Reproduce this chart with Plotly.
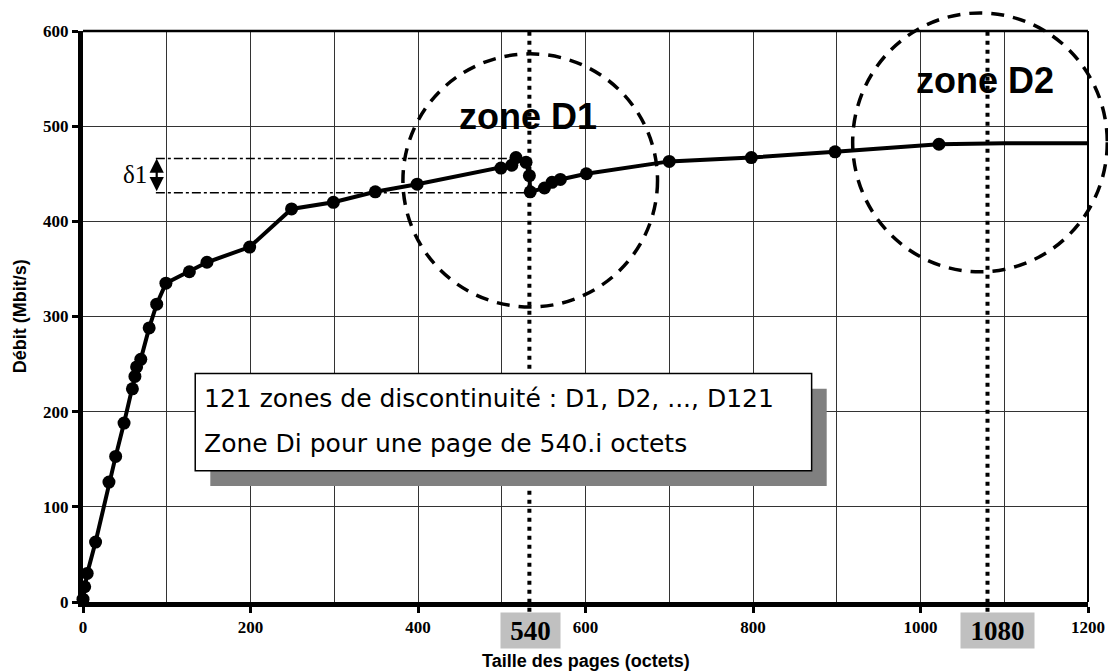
import plotly.graph_objects as go

# ---- data ----
page_size = [0, 2, 5, 15, 31, 39, 49, 59, 62, 64, 69, 79, 88, 99, 127, 148, 199, 249, 299, 349,
             399, 499, 512, 517, 529, 533, 534, 551, 560, 570, 601, 700, 798, 898, 1022]
throughput = [3, 16, 30, 63, 126, 153, 188, 224, 237, 247, 255, 288, 313, 335, 347, 357, 373, 413, 420, 431,
              439, 456, 459, 467, 462, 448, 431, 435, 441, 444, 450, 463, 467, 473, 481]
# curve continuation without measured markers
tail_size = [1100, 1200]
tail_throughput = [482, 482]

x_ticks = [0, 200, 400, 600, 800, 1000, 1200]
y_ticks = [0, 100, 200, 300, 400, 500, 600]
zone_positions = [533, 1080]
zone_labels = ["540", "1080"]

X_MAX, Y_MAX = 1200, 600

def px(x):
    return x / X_MAX

def py(y):
    return y / Y_MAX

fig = go.Figure()

fig.add_trace(go.Scatter(
    x=page_size + tail_size, y=throughput + tail_throughput,
    mode="lines", line=dict(color="black", width=4), cliponaxis=False,
    hoverinfo="skip", showlegend=False))
fig.add_trace(go.Scatter(
    x=page_size, y=throughput, mode="markers",
    marker=dict(color="black", size=13), cliponaxis=False, showlegend=False))

shapes = []
# dotted verticals at discontinuities
for xv in zone_positions:
    shapes.append(dict(type="line", xref="paper", yref="paper",
                       x0=px(xv), x1=px(xv), y0=-0.017, y1=1.0,
                       line=dict(color="black", width=4, dash="4px,5px")))
# top and right border
shapes.append(dict(type="line", xref="paper", yref="paper", x0=0, x1=1, y0=1, y1=1,
                   line=dict(color="black", width=2.5)))
shapes.append(dict(type="line", xref="paper", yref="paper", x0=1, x1=1, y0=0, y1=1,
                   line=dict(color="black", width=2)))
# dash-dot delta lines
shapes.append(dict(type="line", xref="x", yref="y", x0=87, x1=517, y0=466, y1=466,
                   line=dict(color="black", width=1.5, dash="dashdot")))
shapes.append(dict(type="line", xref="x", yref="y", x0=87, x1=533, y0=430, y1=430,
                   line=dict(color="black", width=1.5, dash="dashdot")))
# dashed circles (zones)
for cx, cy, rx, ry in [(534, 443, 152, 133), (1071, 483, 152, 136)]:
    shapes.append(dict(type="circle", xref="paper", yref="paper",
                       x0=px(cx - rx), x1=px(cx + rx), y0=py(cy - ry), y1=py(cy + ry),
                       line=dict(color="black", width=3.5, dash="13px,9px")))
# text box with shadow
shapes.append(dict(type="rect", xref="x", yref="y", x0=152, x1=888, y0=122, y1=224,
                   fillcolor="#808080", line=dict(width=0)))
shapes.append(dict(type="rect", xref="x", yref="y", x0=134, x1=870, y0=138, y1=240,
                   fillcolor="white", line=dict(color="black", width=1.5)))

annotations = []
box_font = dict(family="Comic Sans MS, DejaVu Sans, sans-serif", size=25, color="black")
annotations.append(dict(x=142, y=214, xref="x", yref="y", xanchor="left", yanchor="middle",
                        text="121 zones de discontinuité : D1, D2, ..., D121",
                        showarrow=False, font=box_font))
annotations.append(dict(x=142, y=167, xref="x", yref="y", xanchor="left", yanchor="middle",
                        text="Zone Di pour une page de 540.i octets",
                        showarrow=False, font=box_font))
zone_font = dict(family="Arial, Liberation Sans, sans-serif", size=36, color="black", weight="bold")
annotations.append(dict(x=px(531), y=py(510), xref="paper", yref="paper", text="zone D1",
                        xanchor="center", yanchor="middle", showarrow=False, font=zone_font))
annotations.append(dict(x=px(1077), y=py(548), xref="paper", yref="paper", text="zone D2",
                        xanchor="center", yanchor="middle", showarrow=False, font=zone_font))
# delta arrow
annotations.append(dict(x=88, y=466, ax=88, ay=430, xref="x", yref="y", axref="x", ayref="y",
                        text="", showarrow=True, arrowhead=2, startarrowhead=2,
                        arrowside="end+start", arrowwidth=2.2, arrowsize=1.3, arrowcolor="black"))
annotations.append(dict(x=62, y=449, xref="x", yref="y", text="δ1", showarrow=False,
                        xanchor="center", yanchor="middle",
                        font=dict(family="Liberation Serif, Times New Roman, serif", size=25, color="black")))
# highlighted tick labels
for xv, lab, w in zip([534, 1092], zone_labels, [59, 73]):
    annotations.append(dict(x=xv, y=-0.05, xref="x", yref="paper", text=lab, showarrow=False,
                            xanchor="center", yanchor="middle",
                            bgcolor="#c0c0c0", width=w, height=35, borderpad=0,
                            font=dict(family="Liberation Serif, Times New Roman, serif", size=27,
                                      color="black", weight="bold")))
# axis titles
title_font = dict(family="Arial, Liberation Sans, sans-serif", size=18, color="black", weight="bold")
annotations.append(dict(x=-0.063, y=0.5, xref="paper", yref="paper", text="Débit (Mbit/s)",
                        xanchor="center", yanchor="middle",
                        textangle=-90, showarrow=False, font=title_font))
annotations.append(dict(x=0.5, y=-0.103, xref="paper", yref="paper", text="Taille des pages (octets)",
                        xanchor="center", yanchor="middle", showarrow=False, font=title_font))

tick_font = dict(family="Liberation Serif, Times New Roman, serif", size=17, color="black", weight="bold")

fig.update_layout(
    width=1108, height=672,
    margin=dict(l=83, r=20, t=31, b=70, autoexpand=False),
    paper_bgcolor="white", plot_bgcolor="white",
    shapes=shapes, annotations=annotations, showlegend=False,
    xaxis=dict(range=[0, X_MAX], tickvals=x_ticks, ticktext=[str(v) for v in x_ticks],
               showgrid=True, gridcolor="#333333", gridwidth=1, automargin=False,
               minor=dict(dtick=100, showgrid=True, gridcolor="#333333", gridwidth=1),
               showline=True, linecolor="black", linewidth=5,
               ticks="outside", ticklen=6, tickwidth=3, tickcolor="black",
               tickfont=tick_font, ticklabelstandoff=0, zeroline=False),
    yaxis=dict(range=[0, Y_MAX], tickvals=y_ticks, ticktext=[str(v) for v in y_ticks],
               showgrid=True, gridcolor="#333333", gridwidth=1, automargin=False,
               showline=True, linecolor="black", linewidth=5,
               ticks="outside", ticklen=6, tickwidth=3, tickcolor="black",
               tickfont=tick_font, ticklabelstandoff=0, zeroline=False),
)

# remove the default 8px page margin so the 1108x672 figure fills the window exactly
fig.write_html("out.html", config={"displayModeBar": False},
               post_script="document.body.style.margin='0';document.body.style.overflow='hidden';")
